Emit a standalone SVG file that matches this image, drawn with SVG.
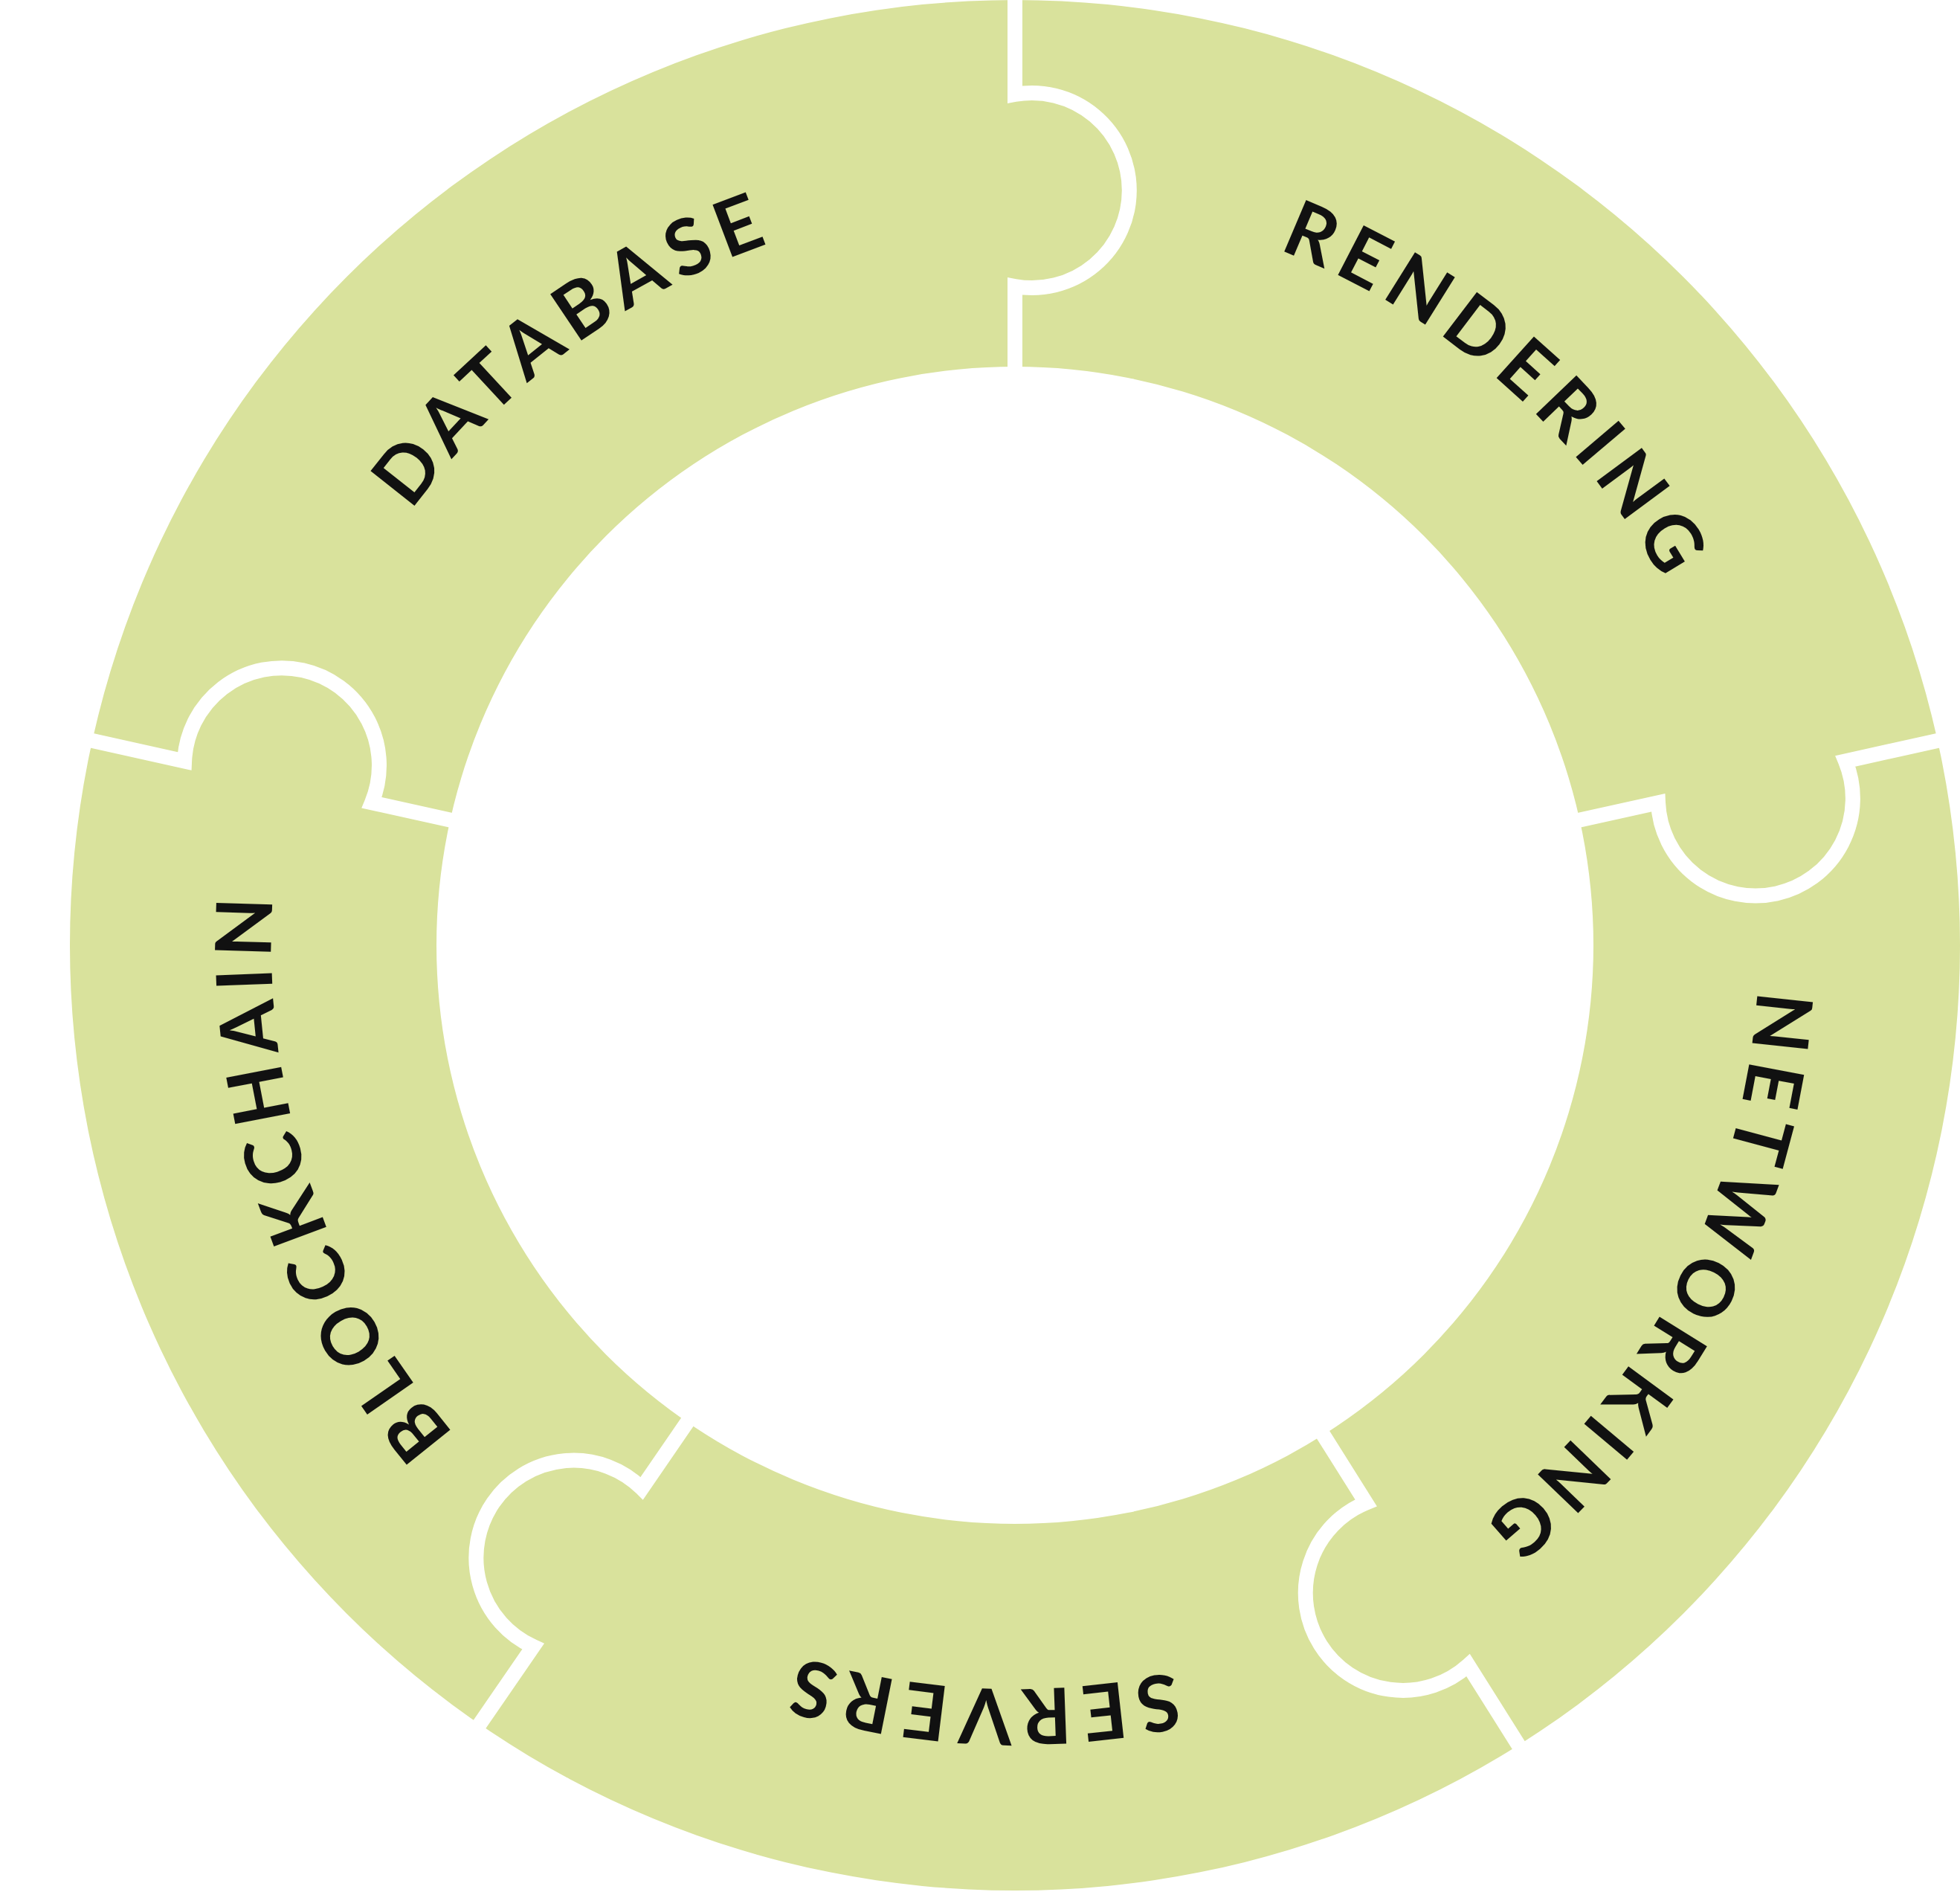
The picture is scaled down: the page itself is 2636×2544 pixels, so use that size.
<svg xmlns="http://www.w3.org/2000/svg" width="2636" height="2544" viewBox="0 0 2636 2544">
<style>
.gap{fill:none;stroke:#fff;stroke-width:20;stroke-linejoin:miter}
.lbl{font-family:Lato,"Liberation Sans",sans-serif;font-weight:700;font-size:104px;letter-spacing:12px;fill:#111;text-anchor:middle}
</style>
<defs>
<path id="ring" d="M 791.4 2090.2 A 1000 1000 0 0 1 1938.6 451.8 A 1000 1000 0 0 1 791.4 2090.2"/>
</defs>
<rect width="2636" height="2544" fill="#fff"/>
<g id="ringshape">
<path d="M 1365 0 A 1271 1271 0 1 1 1365 2542 A 1271 1271 0 1 1 1365 0 Z M 1365 493 A 778 778 0 1 0 1365 2049 A 778 778 0 1 0 1365 493 Z" fill="#d9e29c" fill-rule="evenodd"/>
</g>
<g id="connectors">
<path class="gap" d="M 1365 -10 L 1365 127 A 131 131 0 1 1 1365 385 L 1365 503"/>
<path class="gap" d="M 2615.6 993.8 L 2481.9 1023.4 A 131 131 0 1 1 2230.0 1079.3 L 2114.8 1104.8"/>
<path class="gap" d="M 2047.6 2355.0 L 1974.6 2239.1 A 131 131 0 1 1 1837.1 2020.7 L 1774.3 1920.9"/>
<path class="gap" d="M 639.4 2326.7 L 717.0 2213.8 A 131 131 0 1 1 863.2 2001.2 L 930.0 1903.9"/>
<path class="gap" d="M 114.4 993.8 L 248.1 1023.4 A 131 131 0 1 1 500.0 1079.3 L 615.2 1104.8"/>
</g>
<g id="blockchain"><text class="lbl"><textPath href="#ring" startOffset="638.8">BLOCKCHAIN</textPath></text></g>
<g id="database"><text class="lbl"><textPath href="#ring" startOffset="1894">DATABASE</textPath></text></g>
<g id="rendering"><text class="lbl"><textPath href="#ring" startOffset="3246">RENDERING</textPath></text></g>
<g id="networking"><text class="lbl"><textPath href="#ring" startOffset="4581">NETWORKING</textPath></text></g>
<g id="servers"><text class="lbl"><textPath href="#ring" startOffset="5717">SERVERS</textPath></text></g>
</svg>
